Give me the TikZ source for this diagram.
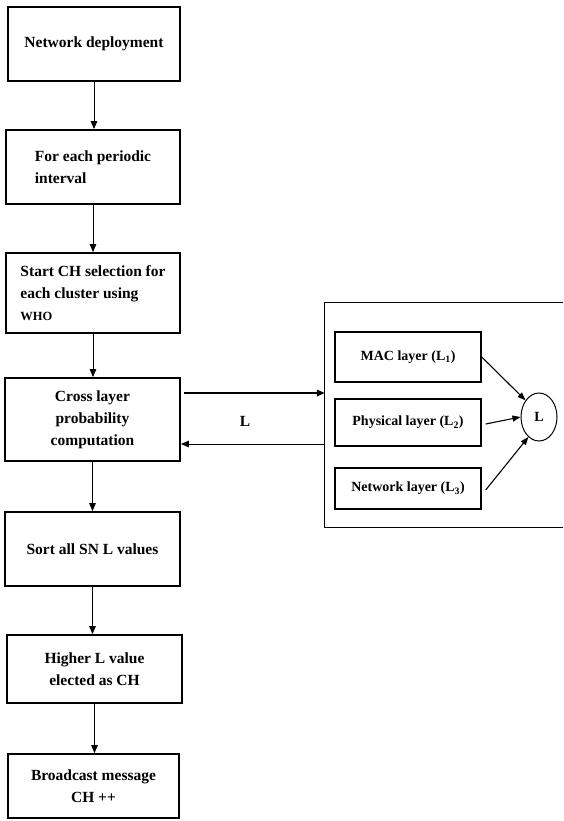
\documentclass[tikz,border=0pt]{standalone}
\usepackage{fontspec}
\setmainfont{Liberation Serif}
\usetikzlibrary{arrows.meta,shapes.geometric}
\begin{document}
\begin{tikzpicture}[x=1pt,y=-1pt,
  flowbox/.style={draw,line width=1.8pt,rectangle,inner sep=0pt,font=\fontsize{15.5}{22}\selectfont\bfseries},
  layerbox/.style={draw,line width=1.4pt,rectangle,inner sep=0pt,minimum width=146pt,font=\fontsize{14}{17}\selectfont\bfseries},
  flowarrow/.style={line width=1pt,-{Triangle[length=8pt,width=6.5pt]}},
  boldarrow/.style={line width=1.8pt,-{Triangle[length=8pt,width=6.5pt]}},
  panelarrow/.style={line width=1.1pt,-{Triangle[length=8pt,width=6pt]}},
]
\useasboundingbox (0,0) rectangle (563,821);

% main flow
\node[flowbox,minimum width=172pt,minimum height=74pt] (b1) at (94,44) {Network deployment};
\node[flowbox,minimum width=174pt,minimum height=74pt,align=left] (b2) at (93,167) {For each periodic\\interval};
\node[flowbox,minimum width=174pt,minimum height=80pt,align=left] (b3) at (93,293) {Start CH selection for\\each cluster using\\{\fontsize{12.5}{22}\selectfont WHO}};
\node[flowbox,minimum width=175pt,minimum height=83pt,align=center] (b4) at (92.5,419.5) {Cross layer\\probability\\computation};
\node[flowbox,minimum width=175pt,minimum height=74pt] (b5) at (92.5,549) {Sort all SN L values};
\node[flowbox,minimum width=175pt,minimum height=68pt,align=center] (b6) at (94.5,669) {Higher L value\\elected as CH};
\node[flowbox,minimum width=171pt,minimum height=64pt,align=center] (b7) at (93.5,786) {Broadcast message\\CH ++};

\draw[flowarrow] (b1.south) -- (b1.south |- b2.north);
\draw[flowarrow] (b2.south) -- (b2.south |- b3.north);
\draw[flowarrow] (b3.south) -- (b3.south |- b4.north);
\draw[flowarrow] (b4.south) -- (b4.south |- b5.north);
\draw[flowarrow] (b5.south) -- (b5.south |- b6.north);
\draw[flowarrow] (b6.south) -- (b6.south |- b7.north);

% right panel
\node[rectangle,inner sep=0pt,minimum width=238pt,minimum height=224pt] (panel) at (444,415) {};
\draw[line width=1pt] (panel.north east) -- (panel.north west) -- (panel.south west) -- (panel.south east);

\node[layerbox,minimum height=50pt] (mac) at (408,357) {MAC layer (L\textsubscript{1})};
\node[layerbox,minimum height=47pt] (phy) at (408,422.5) {Physical layer (L\textsubscript{2})};
\node[layerbox,minimum height=41pt] (net) at (408,488.5) {Network layer (L\textsubscript{3})};
\node[ellipse,draw,line width=1pt,minimum width=36pt,minimum height=48pt,inner sep=0pt,font=\fontsize{14}{17}\selectfont\bfseries] (c) at (539,417) {L};

\draw[panelarrow] (mac.east) -- (c.129);
\draw[panelarrow] ([xshift=4pt,yshift=-1.5pt]phy.east) -- (c.west);
\draw[panelarrow] ([xshift=4pt,yshift=-1.5pt]net.east) -- (c.242);

% links between computation and panel
\coordinate (r1) at ([xshift=3pt,yshift=26.5pt]b4.east);
\coordinate (l1) at ([yshift=-24.5pt]b4.east);
\draw[boldarrow] (r1) -- (r1 -| panel.west);
\draw[flowarrow] (l1 -| panel.west) -- (l1);
\node[font=\fontsize{15.5}{18}\selectfont\bfseries] (lab) at (245,421) {L};
\end{tikzpicture}
\end{document}
